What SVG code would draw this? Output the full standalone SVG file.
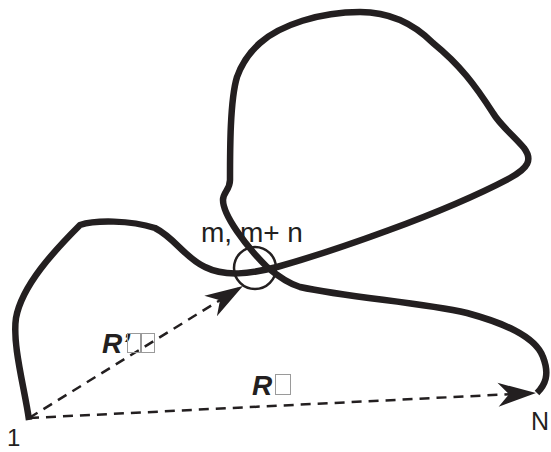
<svg xmlns="http://www.w3.org/2000/svg" width="551" height="452" viewBox="0 0 551 452">
<style>
.curve{fill:none;stroke:#231f20;stroke-width:6.5;stroke-linecap:butt;stroke-linejoin:round}
.ring{fill:none;stroke:#231f20;stroke-width:2.5}
.vec{fill:none;stroke:#231f20;stroke-width:2.5;stroke-dasharray:10 7}
.lbl{font-family:"Liberation Sans",Arial,sans-serif;fill:#231f20}
.vl{font-family:"Liberation Sans",Arial,sans-serif;fill:#231f20;font-weight:bold;font-style:italic}
.tofu{fill:none;stroke:#9a9a9a;stroke-width:1}
</style>
<defs>
<marker id="ah" markerUnits="userSpaceOnUse" viewBox="-40 -13 42 26" refX="-5" refY="0" markerWidth="42" markerHeight="26" orient="auto">
<path d="M0,0 L-38,-12 L-27,0 L-38,12 Z" fill="#231f20"/>
</marker>
</defs>
<g id="chain">
<path class="curve" d="M29,420 C25,390 12,345 16,318 C22,285 55,250 80,225 C95,220 130,220 155,228 C175,238 185,258 205,267 C225,277 250,274 277,267 C330,252 440,215 510,178 C528,168 533,160 524,148 C514,136 500,125 493,113 C475,85 460,65 433,43 C415,25 390,12 360,12 C320,12 280,25 260,43 C250,52 242,63 237,77 C230,100 230,150 230,180 C230,190 223,192 223,200 C223,215 245,245 267,267 C280,278 290,284 300,287 C350,298 420,302 467,313 C500,322 535,335 543,357 C550,375 545,385 537,393"/>
</g>
<g id="contact">
<ellipse class="ring" cx="255" cy="268" rx="21" ry="21"/>
<text class="lbl" x="201" y="242" font-size="28">m, m+ n</text>
</g>
<g id="connectors">
<line class="vec" x1="29" y1="418" x2="238.7" y2="288.6" marker-end="url(#ah)"/>
<line class="vec" x1="29" y1="418" x2="531" y2="393.2" marker-end="url(#ah)"/>
</g>
<g id="label-Rp">
<text class="vl" x="102" y="353" font-size="28">R’</text>
<rect class="tofu" x="127.5" y="333.5" width="13" height="19"/>
<rect class="tofu" x="141.5" y="333.5" width="13" height="19"/>
</g>
<g id="label-R">
<text class="vl" x="252" y="395" font-size="28">R</text>
<rect class="tofu" x="275.5" y="374.5" width="15" height="20"/>
</g>
<g id="end-1"><text class="lbl" x="7" y="446" font-size="24">1</text></g>
<g id="end-N"><text class="lbl" x="531" y="430" font-size="25">N</text></g>
</svg>
